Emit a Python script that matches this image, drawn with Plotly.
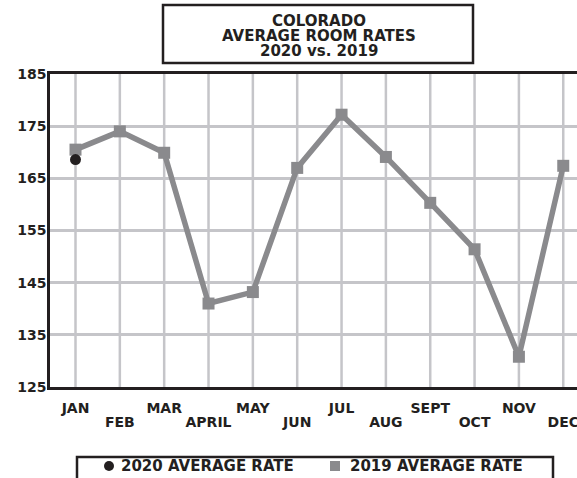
import plotly.graph_objects as go

months = ["JAN", "FEB", "MAR", "APRIL", "MAY", "JUN", "JUL", "AUG", "SEPT", "OCT", "NOV", "DEC"]
rate_2019 = [170.5, 174.0, 169.9, 141.0, 143.2, 167.0, 177.2, 169.1, 160.3, 151.4, 130.8, 167.4]
rate_2020 = [168.6, None, None, None, None, None, None, None, None, None, None, None]
y_ticks = [125, 135, 145, 155, 165, 175, 185]
title_lines = ["COLORADO", "AVERAGE ROOM RATES", "2020 vs. 2019"]
legend_names = ["2020 AVERAGE RATE", "2019 AVERAGE RATE"]

W, H = 577, 478
ML, MR, MT, MB = 50, 0, 74, 91
PW, PH = W - ML - MR, H - MT - MB
FONT = "DejaVu Sans"
INK = "#231f20"
GREY = "#8a8a8d"
GRID = "#c5c5c9"


def px(x):
    return (x - ML) / PW


def py(y):
    return (H - MB - y) / PH


xi = list(range(len(months)))
odd_idx = xi[0::2]
even_idx = xi[1::2]

fig = go.Figure()
fig.add_trace(go.Scatter(
    x=xi, y=rate_2019, mode="lines+markers", name=legend_names[1],
    line=dict(color=GREY, width=5.5),
    marker=dict(symbol="square", size=12, color=GREY),
    showlegend=False, cliponaxis=False,
))
fig.add_trace(go.Scatter(
    x=xi, y=rate_2020, mode="markers", name=legend_names[0],
    marker=dict(symbol="circle", size=11, color=INK),
    showlegend=False, cliponaxis=False,
))
fig.add_trace(go.Scatter(x=[None], y=[None], xaxis="x2", showlegend=False, hoverinfo="skip"))

xrange = [-0.575, 11.31]
tickfont = dict(family=FONT, size=14, color=INK, weight="bold")
fig.update_layout(
    width=W, height=H,
    margin=dict(l=ML, r=MR, t=MT, b=MB, pad=0, autoexpand=False),
    paper_bgcolor="white", plot_bgcolor="white",
    font=dict(family=FONT, color=INK, size=14, weight="bold"),
    xaxis=dict(
        range=xrange, tickmode="array", tickvals=odd_idx,
        ticktext=[months[i] for i in odd_idx],
        showgrid=False, zeroline=False, automargin=False,
        showline=True, linecolor=INK, linewidth=2.5, mirror=True,
        ticks="", ticklabelstandoff=6, ticklabeloverflow="allow",
        tickfont=tickfont,
    ),
    xaxis2=dict(
        range=xrange, overlaying="x", side="bottom", anchor="y",
        tickmode="array", tickvals=even_idx,
        ticktext=[months[i] for i in even_idx],
        showgrid=False, zeroline=False, showline=False, automargin=False,
        ticks="", ticklabelstandoff=25, ticklabeloverflow="allow",
        tickfont=tickfont,
    ),
    yaxis=dict(
        range=[125, 185], tickmode="array", tickvals=y_ticks,
        showgrid=True, gridcolor=GRID, gridwidth=2.5, zeroline=False,
        showline=True, linecolor=INK, linewidth=2.5, automargin=False,
        ticks="", ticklabelstandoff=-2,
        tickfont=tickfont,
    ),
)

# vertical month grid lines on the data scale
for i in xi:
    fig.add_shape(type="line", xref="x", yref="paper", x0=i, x1=i, y0=0, y1=1,
                  line=dict(color=GRID, width=2.5), layer="below")

# title box
fig.add_shape(type="rect", xref="paper", yref="paper",
              x0=px(163), x1=px(473), y0=py(63), y1=py(5),
              line=dict(color=INK, width=2.5), fillcolor="rgba(0,0,0,0)")
for t, yy in zip(title_lines, [21, 36, 51]):
    fig.add_annotation(text=t, xref="paper", yref="paper", x=px(319), y=py(yy),
                       xanchor="center", yanchor="middle", showarrow=False,
                       font=dict(family=FONT, size=15, color=INK, weight="bold"))

# legend box
fig.add_shape(type="rect", xref="paper", yref="paper",
              x0=px(77), x1=px(553), y0=py(500), y1=py(457),
              line=dict(color=INK, width=2.5), fillcolor="rgba(0,0,0,0)")
fig.add_shape(type="circle", xref="paper", yref="paper",
              x0=px(104), x1=px(114), y0=py(471), y1=py(461),
              line=dict(color=INK, width=0), fillcolor=INK)
fig.add_shape(type="rect", xref="paper", yref="paper",
              x0=px(330), x1=px(340), y0=py(471), y1=py(461),
              line=dict(color=GREY, width=0), fillcolor=GREY)
for name, lx in zip(legend_names, [119, 348]):
    fig.add_annotation(text=name, xref="paper", yref="paper", x=px(lx), y=py(466),
                       xanchor="left", yanchor="middle", showarrow=False,
                       font=dict(family=FONT, size=15, color=INK, weight="bold"))

fig.write_html("out.html", config={"displayModeBar": False},
               post_script="document.body.style.margin='0px';")
